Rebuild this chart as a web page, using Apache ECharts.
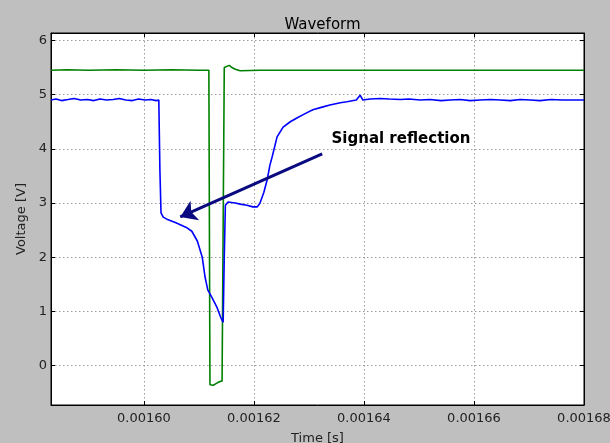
<!DOCTYPE html>
<html>
<head>
<meta charset="utf-8">
<script src="https://cdn.jsdelivr.net/npm/echarts@6/dist/echarts.min.js"></script>
<style>
html,body{margin:0;padding:0;background:#bfbfbf;}
#chart{width:610px;height:443px;}
</style>
</head>
<body>
<div id="chart"></div>
<script>
// ---- data ----
const titleText = 'Waveform';
const xName = 'Time [s]';
const yName = 'Voltage [V]';
const xMin = 0.0015831, xMax = 0.00168;
const yMin = -0.725, yMax = 6.137;

const blueTime = [
0.0015831,0.0015840,0.0015850,0.0015862,0.0015873,0.0015885,0.0015897,0.0015909,0.0015920,0.0015932,
0.0015944,0.0015955,0.0015967,0.0015979,0.0015990,0.0016002,0.0016013,0.0016022,0.0016027,0.0016029,
0.0016031,0.0016035,0.0016044,0.0016057,0.0016066,0.0016077,0.0016087,0.0016097,0.0016106,0.0016111,
0.0016116,0.0016124,0.0016133,0.0016140,0.0016144,0.0016146,0.0016148,0.0016153,0.0016166,0.0016175,
0.0016187,0.0016198,0.0016206,0.0016211,0.0016218,0.0016224,0.0016229,0.0016233,0.0016242,0.0016253,
0.0016266,0.0016278,0.0016293,0.0016307,0.0016324,0.0016338,0.0016357,0.0016369,0.0016386,0.0016393,
0.0016398,0.0016411,0.0016429,0.0016446,0.0016466,0.0016482,0.0016502,0.0016520,0.0016540,0.0016557,
0.0016575,0.0016593,0.0016611,0.0016630,0.0016648,0.0016666,0.0016684,0.0016702,0.0016720,0.0016740,
0.0016760,0.0016780,0.0016800
];
const blueVolt = [
4.90,4.92,4.89,4.91,4.93,4.90,4.91,4.89,4.92,4.90,
4.91,4.93,4.90,4.89,4.92,4.90,4.91,4.89,4.90,3.60,
2.82,2.74,2.69,2.64,2.60,2.55,2.48,2.30,2.00,1.64,
1.40,1.25,1.07,0.88,0.80,2.00,2.96,3.02,3.00,2.98,
2.96,2.93,2.93,3.00,3.20,3.43,3.70,3.85,4.22,4.40,
4.50,4.57,4.65,4.72,4.77,4.81,4.85,4.87,4.90,4.99,
4.90,4.92,4.93,4.92,4.91,4.92,4.90,4.91,4.89,4.90,
4.91,4.89,4.90,4.91,4.90,4.89,4.91,4.90,4.89,4.91,
4.90,4.90,4.90
];

const greenTime = [
0.0015831,0.0015860,0.0015900,0.0015950,0.0016000,0.0016050,0.0016100,0.0016118,0.0016120,0.0016126,
0.0016131,0.0016136,0.0016142,0.0016144,0.0016146,0.0016149,0.0016155,0.0016160,0.0016166,0.0016175,
0.0016211,0.0016300,0.0016400,0.0016500,0.0016600,0.0016700,0.0016800
];
const greenVolt = [
5.45,5.46,5.45,5.46,5.45,5.46,5.45,5.45,-0.35,-0.36,
-0.33,-0.30,-0.28,-0.27,5.50,5.49,5.54,5.50,5.47,5.44,
5.45,5.45,5.45,5.45,5.45,5.45,5.45
];

const annotationText = 'Signal reflection';
const annotationTextAt = [0.0016341, 4.185];
const arrowFrom = [0.0016324, 3.908];
const arrowTo = [0.0016066, 2.745];
const xStep = 0.00002;

// ---- build ----
const pair = (xs, ys) => xs.map((x, i) => [x, ys[i]]);
const font = 'DejaVu Sans';
const gridLine = {show: true, lineStyle: {color: '#9a9a9a', type: [1.5, 2.5], width: 1}};
const tick = {show: true, inside: true, length: 4, lineStyle: {color: '#000', width: 1}};
const axisLine = {show: true, onZero: false, lineStyle: {color: '#000', width: 1}};

const chart = echarts.init(document.getElementById('chart'), null, {renderer: 'canvas'});
chart.setOption({
  animation: false,
  backgroundColor: '#bfbfbf',
  title: {
    text: titleText, left: 317.5, top: 13, textAlign: 'center',
    textStyle: {fontFamily: font, fontSize: 15, fontWeight: 'normal', color: '#000'}
  },
  grid: {left: 51, top: 33, right: 26, bottom: 38, outerBoundsMode: 'none', containLabel: false,
         show: true, backgroundColor: '#fff', borderColor: '#000', borderWidth: 1},
  xAxis: [{
    type: 'value', min: xMin, max: xMax, position: 'bottom',
    name: xName, nameLocation: 'middle', nameGap: 27,
    nameTextStyle: {fontFamily: font, fontSize: 13, color: '#222'},
    axisLine: axisLine, axisTick: tick, splitLine: gridLine,
    axisLabel: {
      fontFamily: font, fontSize: 13, color: '#222', margin: 7,
      showMinLabel: false,
      formatter: v => { const r = v / xStep; return Math.abs(r - Math.round(r)) < 1e-4 ? v.toFixed(5) : ''; }
    }
  }, {
    type: 'value', min: xMin, max: xMax, position: 'top',
    axisLine: axisLine, axisTick: tick, axisLabel: {show: false}, splitLine: {show: false}
  }],
  yAxis: [{
    type: 'value', min: yMin, max: yMax, position: 'left',
    name: yName, nameLocation: 'middle', nameGap: 18,
    nameTextStyle: {fontFamily: font, fontSize: 13, color: '#222'},
    axisLine: axisLine, axisTick: tick, splitLine: gridLine,
    axisLabel: {
      fontFamily: font, fontSize: 13, color: '#222', margin: 4,
      showMinLabel: false, showMaxLabel: false,
      formatter: v => Math.abs(v - Math.round(v)) < 1e-6 ? String(Math.round(v)) : ''
    }
  }, {
    type: 'value', min: yMin, max: yMax, position: 'right',
    axisLine: axisLine, axisTick: tick, axisLabel: {show: false}, splitLine: {show: false}
  }],
  series: [{
    name: 'green', type: 'line', data: pair(greenTime, greenVolt),
    showSymbol: false, symbol: 'none',
    lineStyle: {color: '#008000', width: 1.6}, silent: true, z: 2
  }, {
    name: 'blue', type: 'line', data: pair(blueTime, blueVolt),
    showSymbol: false, symbol: 'none',
    lineStyle: {color: '#0000ff', width: 1.6}, silent: true, z: 3,
    markLine: {
      silent: true, animation: false,
      symbol: ['none', 'arrow'], symbolSize: 16,
      lineStyle: {color: '#0a0a80', width: 3, type: 'solid'},
      label: {show: false},
      data: [[{coord: arrowFrom}, {coord: arrowTo}]]
    },
    markPoint: {
      silent: true, symbol: 'circle', symbolSize: 0,
      label: {
        show: true, position: 'right', distance: 0,
        formatter: annotationText,
        fontFamily: font, fontSize: 15, fontWeight: 'bold', color: '#000'
      },
      data: [{coord: annotationTextAt}]
    }
  }]
});
</script>
</body>
</html>
